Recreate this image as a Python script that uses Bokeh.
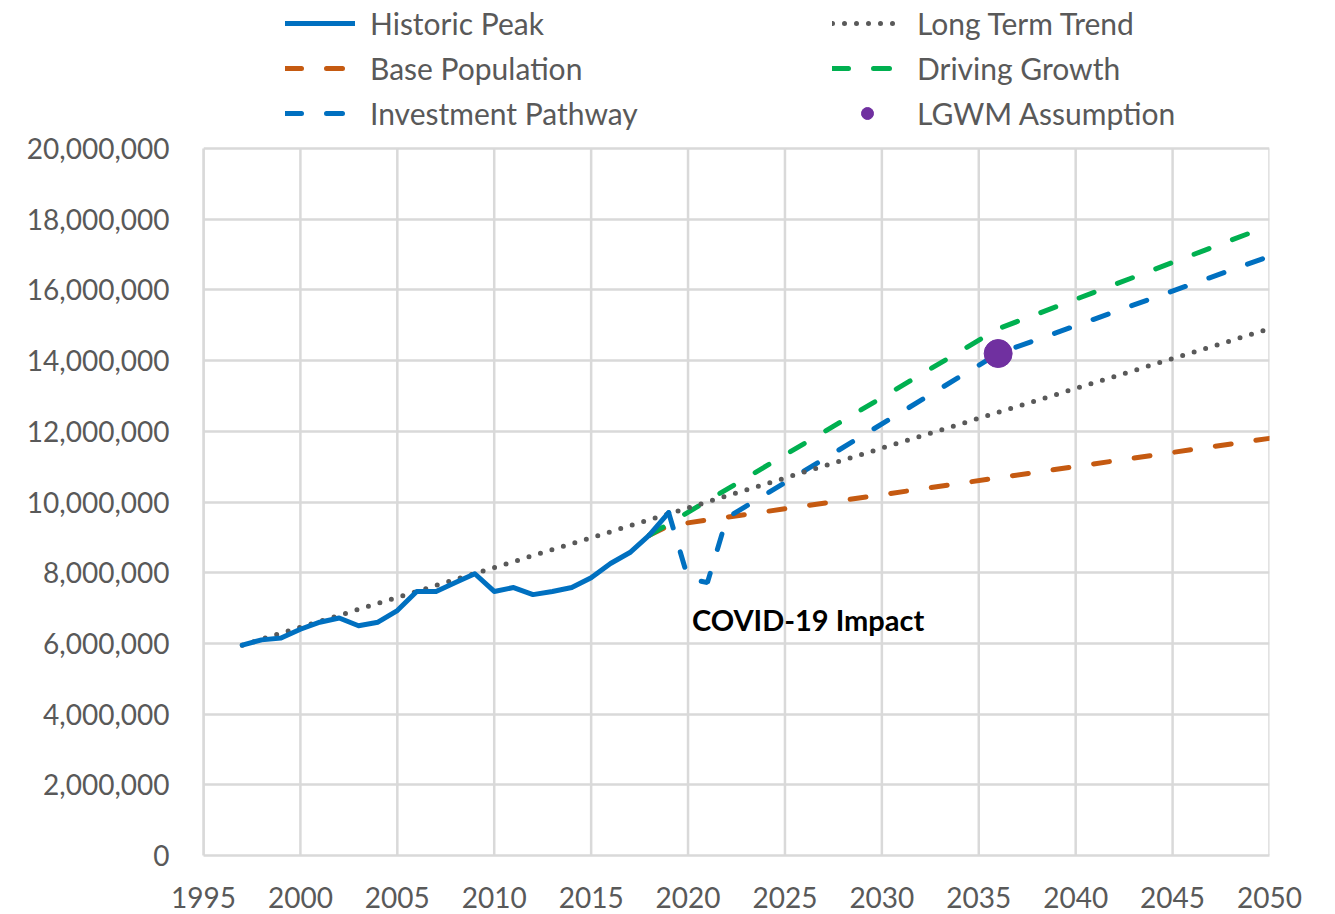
from bokeh.plotting import figure
from bokeh.models import Legend, LegendItem, NumeralTickFormatter, FixedTicker, Range1d
from bokeh.core.properties import value
from bokeh.embed import file_html
from bokeh.resources import INLINE

# ---------------- data ----------------
hist_years = list(range(1997, 2020))
hist_vals = [5.95e6, 6.10e6, 6.15e6, 6.40e6, 6.60e6, 6.72e6, 6.50e6, 6.60e6, 6.93e6,
             7.47e6, 7.47e6, 7.72e6, 7.97e6, 7.47e6, 7.58e6, 7.38e6, 7.47e6, 7.58e6,
             7.86e6, 8.26e6, 8.57e6, 9.06e6, 9.70e6]

trend_years = [1997, 2050]
trend_vals = [5.95e6, 14.90e6]

base_years = [2018, 2019, 2050]
base_vals = [9.06e6, 9.33e6, 11.80e6]

drive_years = [2018, 2036, 2050]
drive_vals = [9.06e6, 14.90e6, 17.82e6]

invest_years = [2019, 2020, 2021, 2022, 2036, 2050]
invest_vals = [9.70e6, 7.84e6, 7.72e6, 9.55e6, 14.20e6, 16.95e6]

lgwm_years = [2036]
lgwm_vals = [14.20e6]

x_ticks = list(range(1995, 2051, 5))
y_ticks = list(range(0, 20_000_001, 2_000_000))
Y_MAX = 20_000_000

BLUE = "#0070C0"
ORANGE = "#C55A11"
GREEN = "#00B050"
GREY = "#595959"
GRID = "#D9D9D9"
PURPLE = "#7030A0"
FONT = "Lato"

# frame spans the full height above the x axis; the legend lives in the top part
FRAME_H = 855
PLOT_H = 707
y_end = Y_MAX * FRAME_H / PLOT_H

p = figure(width=1323, height=914, output_backend="svg", toolbar_location=None,
           x_range=Range1d(1995, 2050), y_range=Range1d(0, y_end),
           min_border_left=203, min_border_right=54, min_border_top=0,
           min_border_bottom=59)
p.outline_line_color = None

# axes
p.xaxis.ticker = FixedTicker(ticks=x_ticks)
p.yaxis.ticker = FixedTicker(ticks=y_ticks)
p.yaxis.bounds = (0, Y_MAX)
p.yaxis.formatter = NumeralTickFormatter(format="0,0")
for ax in (p.xaxis, p.yaxis):
    ax.axis_line_color = GRID
    ax.axis_line_width = 2.5
    ax.major_tick_line_color = None
    ax.minor_tick_line_color = None
    ax.major_label_text_font = FONT
    ax.major_label_text_font_size = "28px"
    ax.major_label_text_color = GREY
p.yaxis.major_label_standoff = 28
p.xaxis.major_label_standoff = 25
p.xgrid.visible = False
p.ygrid.grid_line_color = GRID
p.ygrid.grid_line_width = 2.5
# vertical grid lines limited to the plotted value range
p.segment(x0=x_ticks, y0=[0] * len(x_ticks), x1=x_ticks, y1=[Y_MAX] * len(x_ticks),
          line_color=GRID, line_width=2.5)

# series
r_base = p.line(base_years, base_vals, line_color=ORANGE, line_width=5,
                line_dash="16 25", line_cap="round")
r_drive = p.line(drive_years, drive_vals, line_color=GREEN, line_width=5,
                 line_dash="16 25", line_cap="round")
r_invest = p.line(invest_years, invest_vals, line_color=BLUE, line_width=5,
                  line_dash="16 25", line_cap="round")
r_trend = p.line(trend_years, trend_vals, line_color=GREY, line_width=5,
                 line_dash="0 12", line_cap="round")
r_hist = p.line(hist_years, hist_vals, line_color=BLUE, line_width=5,
                line_join="round", line_cap="round")
r_lgwm = p.scatter(lgwm_years, lgwm_vals, size=28, color=PURPLE)

p.text(x=[2020.2], y=[6.68e6], text=["COVID-19 Impact"], text_font=value(FONT),
       text_font_style="bold", text_font_size="29px", text_color="#000000",
       text_baseline="middle", text_align="left")

def make_legend(items, loc):
    return Legend(items=items, location=loc, orientation="vertical",
                  glyph_width=70, glyph_height=30, label_height=30, spacing=9,
                  padding=0, margin=0, label_standoff=15,
                  label_text_font=FONT, label_text_font_size="30px",
                  label_text_color=GREY, background_fill_alpha=0,
                  border_line_alpha=0)

leg1 = make_legend([LegendItem(label="Historic Peak", renderers=[r_hist]),
                    LegendItem(label="Base Population", renderers=[r_base]),
                    LegendItem(label="Investment Pathway", renderers=[r_invest])],
                   (82, 724))
leg2 = make_legend([LegendItem(label="Long Term Trend", renderers=[r_trend]),
                    LegendItem(label="Driving Growth", renderers=[r_drive]),
                    LegendItem(label="LGWM Assumption", renderers=[r_lgwm])],
                   (629, 724))
p.add_layout(leg1, "center")
p.add_layout(leg2, "center")

open("out.html", "w").write(file_html(p, INLINE))
